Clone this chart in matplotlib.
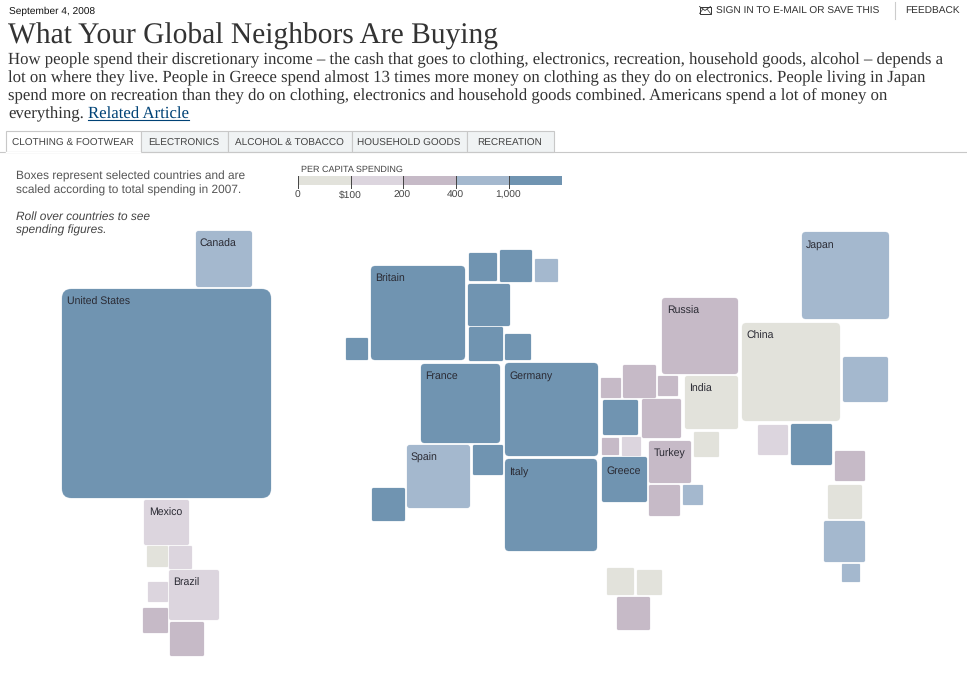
import matplotlib
matplotlib.use('Agg')
import matplotlib.pyplot as plt
from matplotlib.colors import to_rgba
from matplotlib.patches import FancyBboxPatch, Rectangle

plt.rcParams['text.hinting'] = 'no_hinting'

# Spending bins and their colours
bin_colors = ['#e2e2db', '#dcd5de', '#c6bac7', '#a4b8ce', '#7094b1']
legend_edges = [298, 351, 403, 456, 509, 562]
legend_labels = ['0', '$100', '200', '400', '1,000']

# Country boxes: left edge, top edge, side length, spending bin
box_left = [62, 196, 144, 147, 169, 148, 169, 143, 170,
            371, 346, 469, 500, 535, 468, 469, 505, 421, 505, 505, 407, 473, 372,
            601, 623, 658, 603, 642, 602, 622, 602, 649, 649, 683,
            662, 685, 694, 742, 802, 843, 758, 791, 835, 828, 824, 842,
            607, 637, 617]
box_top = [289, 231, 500, 546, 546, 582, 570, 608, 622,
           266, 338, 253, 250, 259, 284, 327, 334, 364, 363, 459, 445, 445, 488,
           378, 365, 376, 400, 399, 438, 437, 457, 441, 485, 485,
           298, 376, 432, 323, 232, 357, 425, 424, 451, 485, 521, 564,
           568, 570, 597]
box_size = [209, 56, 45, 21, 23, 20, 50, 25, 34,
            94, 22, 28, 32, 23, 42, 34, 26, 79, 93, 92, 63, 30, 33,
            20, 33, 20, 35, 39, 17, 19, 45, 42, 31, 20,
            76, 53, 25, 98, 87, 45, 30, 41, 30, 34, 41, 18,
            27, 25, 33]
box_bin = [4, 3, 1, 0, 1, 1, 1, 2, 2,
           4, 4, 4, 4, 3, 4, 4, 4, 4, 4, 4, 3, 4, 4,
           2, 2, 2, 4, 2, 2, 1, 4, 2, 2, 3,
           2, 0, 0, 0, 3, 3, 1, 4, 2, 0, 3, 3,
           0, 0, 2]

# Country names and where they sit
label_names = ['Canada', 'United States', 'Mexico', 'Brazil', 'Britain', 'France', 'Germany',
               'Spain', 'Italy', 'Greece', 'Turkey', 'India', 'Russia', 'China', 'Japan']
label_x = [199, 67, 149, 173, 375, 425, 509, 411, 509, 606, 654, 689, 667, 746, 806]
label_y = [247, 305, 516, 586, 282, 379, 379, 461, 476, 474, 457, 392, 314, 339, 248]

tab_names = ['CLOTHING & FOOTWEAR', 'ELECTRONICS', 'ALCOHOL & TOBACCO', 'HOUSEHOLD GOODS', 'RECREATION']
tab_edges = [5, 140, 227, 351, 466, 553]

intro_lines = [
    'How people spend their discretionary income \u2013 the cash that goes to clothing, electronics, recreation, household goods, alcohol \u2013 depends a',
    'lot on where they live. People in Greece spend almost 13 times more money on clothing as they do on electronics. People living in Japan',
    'spend more on recreation than they do on clothing, electronics and household goods combined. Americans spend a lot of money on',
    'everything.',
]
intro_y = [64, 82, 100, 118]

SANS = 'Liberation Sans'
SERIF = 'Liberation Serif'

fig = plt.figure(figsize=(9.67, 6.8), dpi=100)
ax = fig.add_axes([0, 0, 1, 1])
ax.set_xlim(0, 967)
ax.set_ylim(680, 0)
ax.axis('off')

# Header
ax.text(9, 14, 'September 4, 2008', family=SANS, fontsize=7.3, color='#111111', va='baseline')
ax.text(8, 44, 'What Your Global Neighbors Are Buying', family=SERIF, fontsize=21.25, color='#333333', va='baseline')
for line, y in zip(intro_lines, intro_y):
    ax.text(8, y, line, family=SERIF, fontsize=12.05, color='#333333', va='baseline')
link = ax.text(88, 118, 'Related Article', family=SERIF, fontsize=12.05, color='#004276', va='baseline')
fig.canvas.draw()
link_box = link.get_window_extent().transformed(ax.transData.inverted())
ax.plot([link_box.x0, link_box.x1], [119.5, 119.5], color='#004276', lw=0.8)

ax.text(716, 14, 'SIGN IN TO E-MAIL OR SAVE THIS', family=SANS, fontsize=7.3, color='#333333', va='baseline')
ax.text(905, 14, 'FEEDBACK', family=SANS, fontsize=7.3, color='#333333', va='baseline')
ax.plot([894.5, 894.5], [2, 19], color='#cccccc', lw=0.8)
# Envelope icon
ax.add_patch(Rectangle((699.5, 6.5), 11, 7, fc='white', ec='#333333', lw=0.7))
ax.plot([699.5, 705, 710.5], [6.5, 10.5, 6.5], color='#333333', lw=0.6)
ax.plot([699.5, 703], [13.5, 9], color='#333333', lw=0.5)
ax.plot([710.5, 707], [13.5, 9], color='#333333', lw=0.5)

# Tabs
for i, name in enumerate(tab_names):
    x0, x1 = tab_edges[i], tab_edges[i + 1]
    face = 'white' if i == 0 else '#f0f3f4'
    ax.add_patch(Rectangle((x0 + 0.5, 130.5), x1 - x0, 21, fc=face, ec='#c8c8c8', lw=0.8, zorder=1))
    ax.text((x0 + x1) / 2 + 0.5, 146, name, family=SANS, fontsize=7.22, color='#444444',
            ha='center', va='baseline', zorder=3)
ax.plot([0, 967], [151.5, 151.5], color='#c8c8c8', lw=0.8, zorder=2)
ax.plot([6, 140], [151.5, 151.5], color='white', lw=1, zorder=2)

# Notes
ax.text(16, 180, 'Boxes represent selected countries and are', family=SANS, fontsize=8.6, color='#555555', va='baseline')
ax.text(16, 194, 'scaled according to total spending in 2007.', family=SANS, fontsize=8.6, color='#555555', va='baseline')
ax.text(16, 220, 'Roll over countries to see', family=SANS, fontsize=8.6, color='#444444', va='baseline', style='italic')
ax.text(16, 234, 'spending figures.', family=SANS, fontsize=8.6, color='#444444', va='baseline', style='italic')

# Legend
ax.text(301, 172, 'PER CAPITA SPENDING', family=SANS, fontsize=6.5, color='#444444', va='baseline')
for i, color in enumerate(bin_colors):
    ax.add_patch(Rectangle((legend_edges[i], 176), legend_edges[i + 1] - legend_edges[i], 9, fc=color, ec='none'))
for edge, label in zip(legend_edges, legend_labels):
    ax.plot([edge, edge], [176, 188], color='#444444', lw=0.7)
    ax.text(edge - 1, 198, label, family=SANS, fontsize=7.4, color='#444444', ha='center', va='baseline')

# Country boxes
for left, top, size, b in zip(box_left, box_top, box_size, box_bin):
    ax.add_patch(FancyBboxPatch((left, top), size, size,
                                boxstyle='round,pad=0,rounding_size=%.1f' % (0.045 * size),
                                fc=bin_colors[b], ec=to_rgba(bin_colors[b], 0.3), lw=0.5, zorder=4))
for name, x, y in zip(label_names, label_x, label_y):
    ax.text(x, y, name, family=SANS, fontsize=7.6, color='#2a2a33', va='baseline', zorder=5)

fig.savefig('out.png', dpi=100)
